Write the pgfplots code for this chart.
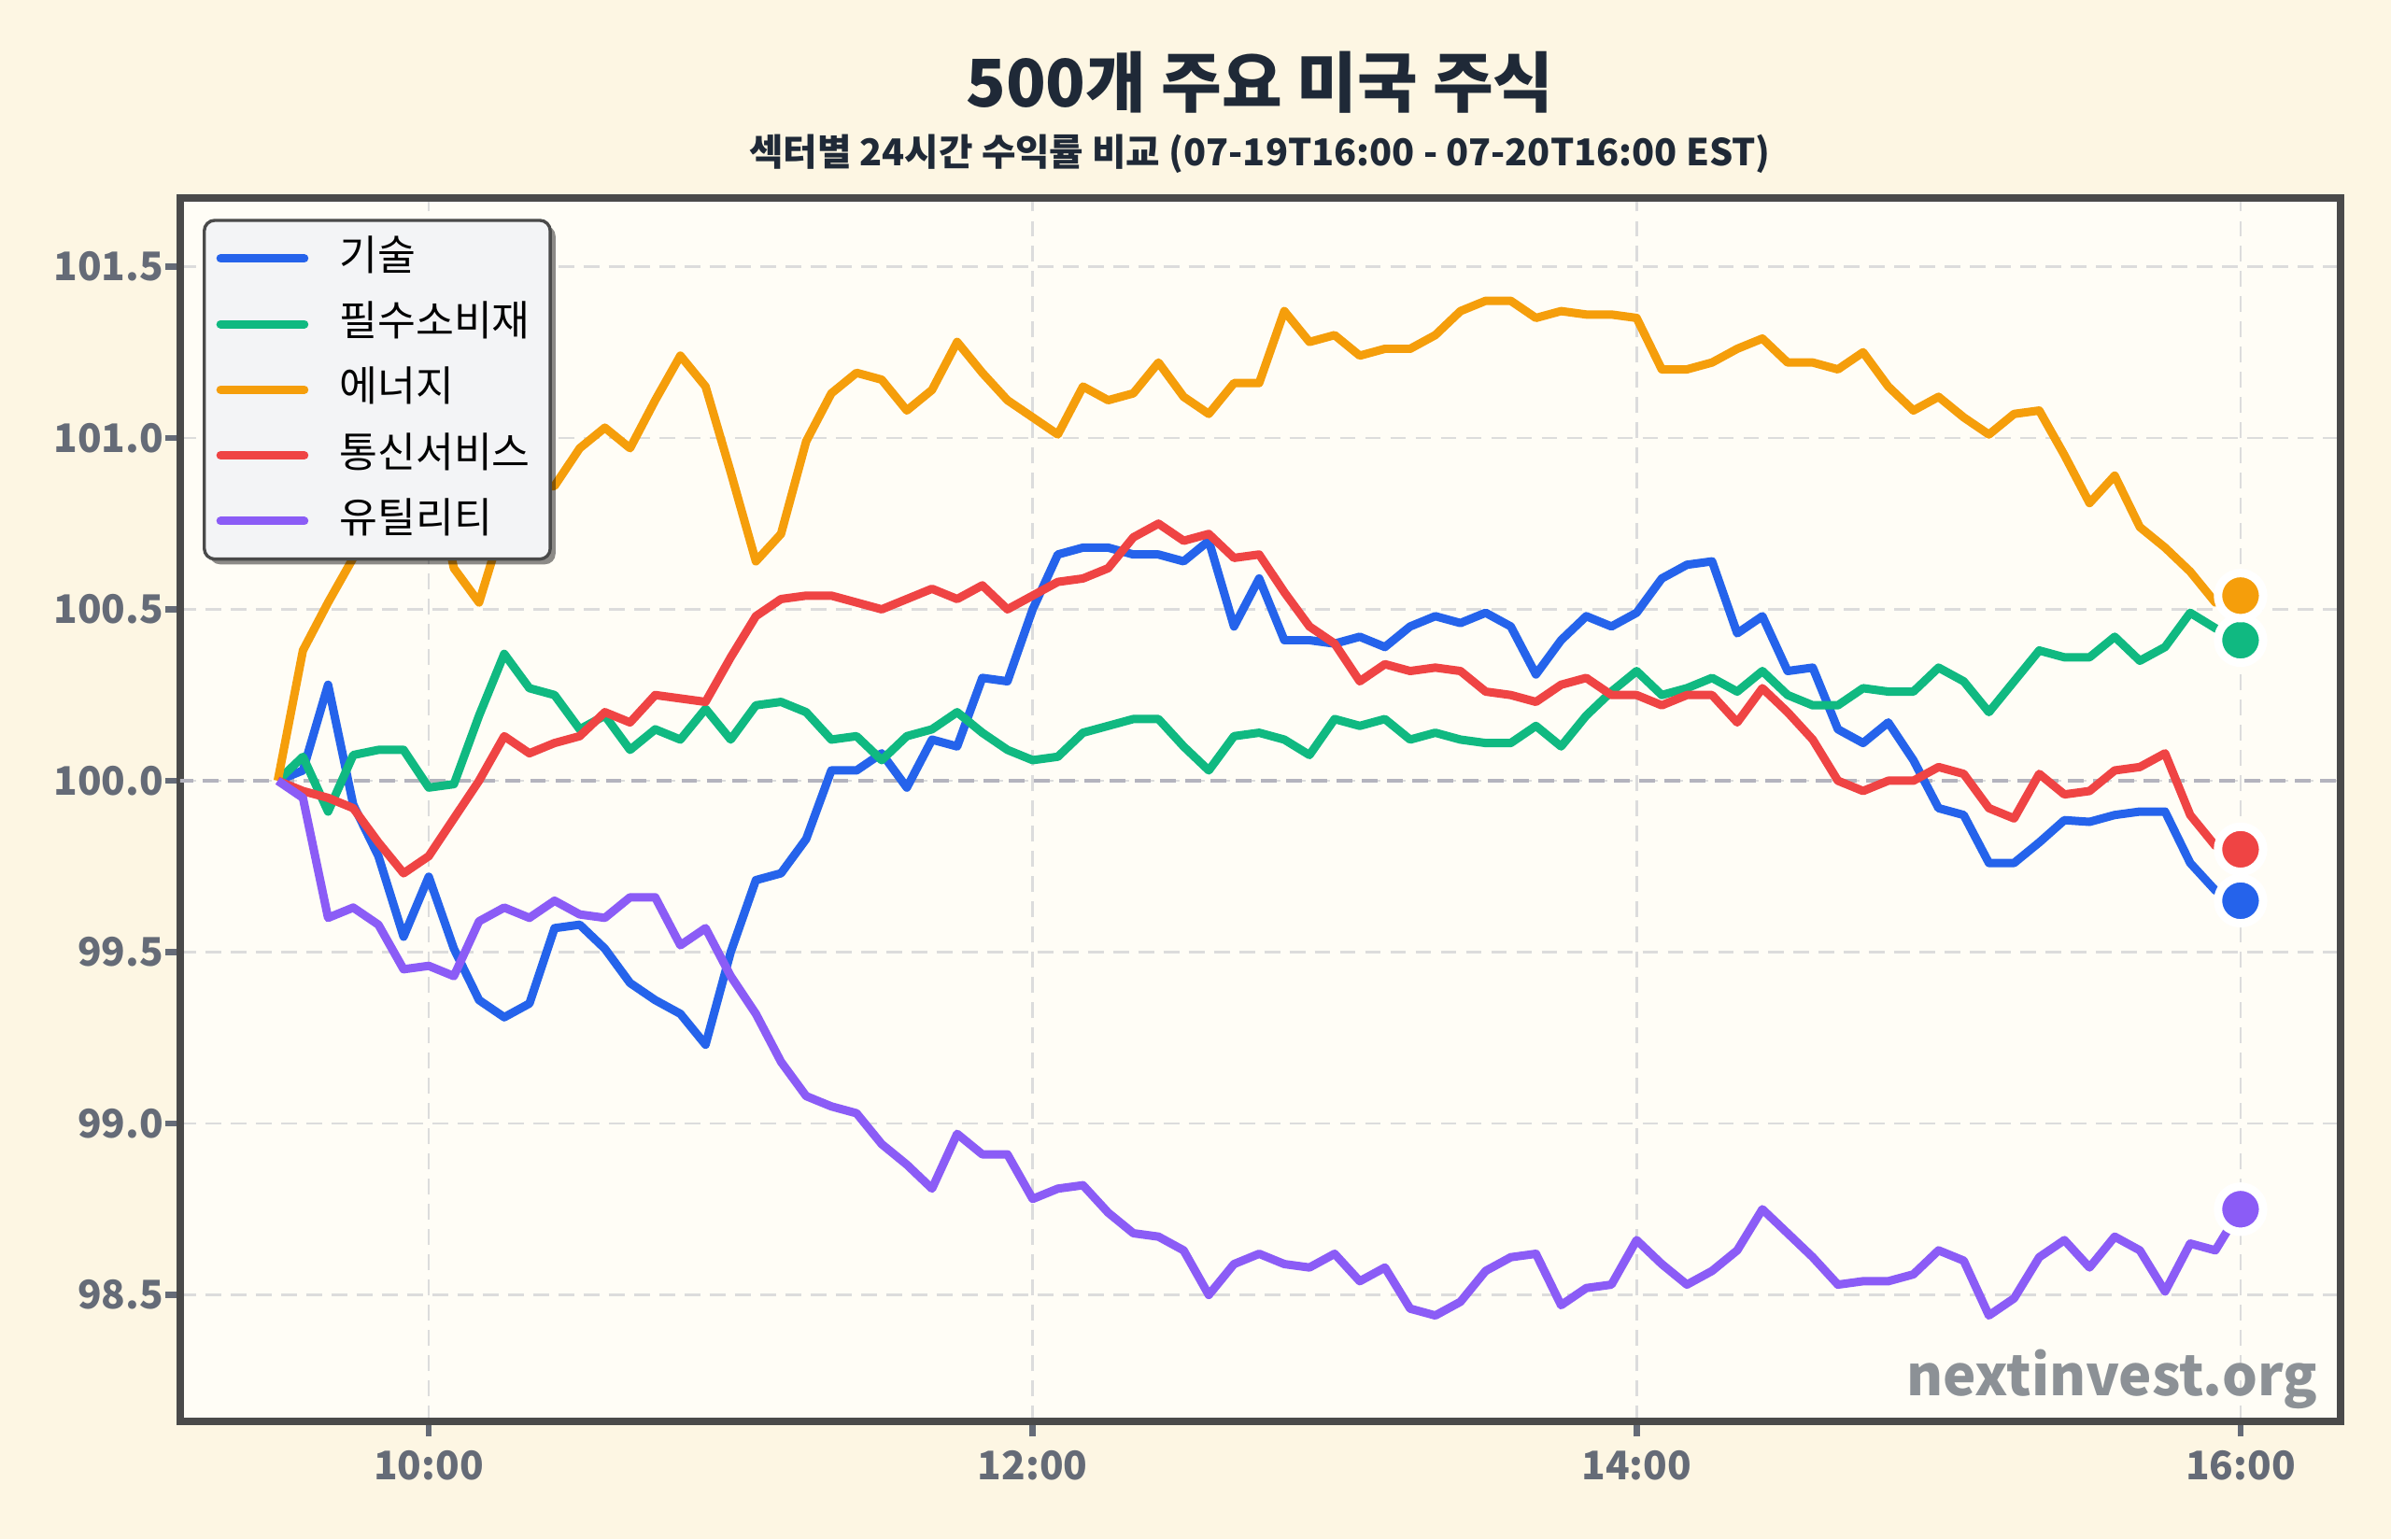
\documentclass[border=0pt]{standalone}
\usepackage{fontspec}
\setmainfont{Noto Sans CJK KR}
\usepackage{pgfplots}
\usepackage{pgfplotstable}
\pgfplotsset{compat=1.18}
\usetikzlibrary{shadows}

% keeps the legend box shadow off the legend sample lines
\makeatletter
\tikzset{noshadow/.code={\let\tikz@preactions\pgfutil@empty}}
\makeatother

\definecolor{tech}{HTML}{2563EB}
\definecolor{staples}{HTML}{10B981}
\definecolor{energy}{HTML}{F59E0B}
\definecolor{telecom}{HTML}{EF4444}
\definecolor{util}{HTML}{8B5CF6}
\definecolor{pagebg}{HTML}{FDF6E3}
\definecolor{plotbg}{HTML}{FFFDF6}
\definecolor{framec}{HTML}{4A4A4A}
\definecolor{ticktext}{HTML}{656B77}
\definecolor{titletext}{HTML}{1F2937}
\definecolor{gridc}{HTML}{DCDCDC}
\definecolor{zeroc}{HTML}{B4B4BE}
\definecolor{markc}{HTML}{8C9196}
\definecolor{legfill}{HTML}{F3F4F6}

% Sector index levels (start = 100), every 5 minutes from 09:30
\pgfplotstableread{
m tech staples energy telecom util
0 100.00 100.00 100.00 100.00 100.00
5 100.03 100.07 100.38 99.97 99.95
10 100.28 99.91 100.52 99.95 99.60
15 99.93 100.075 100.65 99.92 99.63
20 99.78 100.09 100.78 99.82 99.58
25 99.545 100.09 100.88 99.73 99.45
30 99.72 99.98 100.95 99.78 99.46
35 99.51 99.99 100.62 99.89 99.43
40 99.36 100.19 100.52 100.00 99.59
45 99.31 100.37 100.76 100.13 99.63
50 99.35 100.27 100.85 100.08 99.60
55 99.57 100.25 100.86 100.11 99.65
60 99.58 100.15 100.97 100.13 99.61
65 99.51 100.19 101.03 100.20 99.60
70 99.41 100.09 100.97 100.17 99.66
75 99.36 100.15 101.11 100.25 99.66
80 99.32 100.12 101.24 100.24 99.52
85 99.23 100.21 101.15 100.23 99.57
90 99.50 100.12 100.90 100.36 99.43
95 99.71 100.22 100.64 100.48 99.32
100 99.73 100.23 100.72 100.53 99.18
105 99.83 100.20 100.99 100.54 99.08
110 100.03 100.12 101.13 100.54 99.05
115 100.03 100.13 101.19 100.52 99.03
120 100.08 100.06 101.17 100.50 98.94
125 99.98 100.13 101.08 100.53 98.88
130 100.12 100.15 101.14 100.56 98.81
135 100.10 100.20 101.28 100.53 98.97
140 100.30 100.14 101.19 100.57 98.91
145 100.29 100.09 101.11 100.50 98.91
150 100.50 100.06 101.06 100.54 98.78
155 100.66 100.07 101.01 100.58 98.81
160 100.68 100.14 101.15 100.59 98.82
165 100.68 100.16 101.11 100.62 98.74
170 100.66 100.18 101.13 100.71 98.68
175 100.66 100.18 101.22 100.75 98.67
180 100.64 100.10 101.12 100.70 98.63
185 100.70 100.03 101.07 100.72 98.50
190 100.45 100.13 101.16 100.65 98.59
195 100.59 100.14 101.16 100.66 98.62
200 100.41 100.12 101.37 100.55 98.59
205 100.41 100.075 101.28 100.45 98.58
210 100.40 100.18 101.30 100.40 98.62
215 100.42 100.16 101.24 100.29 98.54
220 100.39 100.18 101.26 100.34 98.58
225 100.45 100.12 101.26 100.32 98.46
230 100.48 100.14 101.30 100.33 98.44
235 100.46 100.12 101.37 100.32 98.48
240 100.49 100.11 101.40 100.26 98.57
245 100.45 100.11 101.40 100.25 98.61
250 100.31 100.16 101.35 100.23 98.62
255 100.41 100.10 101.37 100.28 98.47
260 100.48 100.19 101.36 100.30 98.52
265 100.45 100.26 101.36 100.25 98.53
270 100.49 100.32 101.35 100.25 98.66
275 100.59 100.25 101.20 100.22 98.59
280 100.63 100.27 101.20 100.25 98.53
285 100.64 100.30 101.22 100.25 98.57
290 100.43 100.26 101.26 100.17 98.63
295 100.48 100.32 101.29 100.27 98.75
300 100.32 100.25 101.22 100.20 98.68
305 100.33 100.22 101.22 100.12 98.61
310 100.15 100.22 101.20 100.00 98.53
315 100.11 100.27 101.25 99.97 98.54
320 100.17 100.26 101.15 100.00 98.54
325 100.06 100.26 101.08 100.00 98.56
330 99.92 100.33 101.12 100.04 98.63
335 99.90 100.29 101.06 100.02 98.60
340 99.76 100.20 101.01 99.92 98.44
345 99.76 100.29 101.07 99.89 98.49
350 99.82 100.38 101.08 100.02 98.61
355 99.885 100.36 100.95 99.96 98.66
360 99.88 100.36 100.81 99.97 98.58
365 99.90 100.42 100.89 100.03 98.67
370 99.91 100.35 100.74 100.04 98.63
375 99.91 100.39 100.68 100.08 98.51
380 99.76 100.49 100.61 99.90 98.65
385 99.68 100.445 100.52 99.81 98.63
390 99.65 100.41 100.54 99.80 98.75
}\sectors

\begin{document}
\begin{tikzpicture}
\fill[pagebg] (-1.206,-0.7875) rectangle (14.794,9.5125);
\useasboundingbox (-1.206,-0.7875) rectangle (14.794,9.5125);
\begin{axis}[
  at={(0,0)}, anchor=south west,
  scale only axis, width=14.456cm, height=8.1875cm,
  xmin=9.177, xmax=16.331, ymin=98.131, ymax=101.70,
  axis background/.style={fill=plotbg},
  axis line style={draw=framec, line width=1.4pt},
  xtick={10,12,14,16}, xticklabels={10:00,12:00,14:00,16:00},
  ytick={98.5,99,99.5,100,100.5,101,101.5},
  yticklabel={\pgfmathprintnumber[fixed,fixed zerofill,precision=1,assume math mode=true]{\tick}},
  xtick pos=bottom, ytick pos=left,
  tick align=outside, major tick length=0.1cm,
  tick style={draw=ticktext, line width=1.2pt},
  grid=major,
  major grid style={draw=gridc, line width=0.5pt, dash pattern=on 3pt off 1.8pt},
  ticklabel style={font=\bfseries\fontsize{7.5}{9}\selectfont, text=ticktext},
  yticklabel style={xshift=3.2pt},
  xticklabel style={yshift=0.9pt},
  legend cell align=left,
  legend image code/.code={\draw[#1, noshadow, sharp corners, line width=1.6pt, line cap=round] (0cm,0cm) -- (0.56cm,0cm);},
  legend style={
    at={(0.0104,0.983)}, anchor=north west,
    draw=framec, line width=0.6pt, fill=legfill, rounded corners=2pt,
    drop shadow={shadow xshift=1pt, shadow yshift=-1pt, fill=black, opacity=0.45},
    font=\fontsize{7.9}{9.4}\selectfont,
    inner xsep=2.3pt, inner ysep=3.5pt,
    row sep=5pt, column sep=5.9pt,
    nodes={inner sep=0pt, text height=6pt, text depth=1.5pt},
  },
  every axis plot/.append style={line width=1.6pt, line join=round},
]
\addplot[zeroc, line width=0.8pt, dash pattern=on 3pt off 1.8pt, forget plot]
  coordinates {(9,100) (17,100)};
\addplot[tech] table[x expr=9.5+\thisrow{m}/60, y=tech] {\sectors};
\addlegendentry{기술}
\addplot[staples] table[x expr=9.5+\thisrow{m}/60, y=staples] {\sectors};
\addlegendentry{필수소비재\hspace*{1.5pt}}
\addplot[energy] table[x expr=9.5+\thisrow{m}/60, y=energy] {\sectors};
\addlegendentry{에너지}
\addplot[telecom] table[x expr=9.5+\thisrow{m}/60, y=telecom] {\sectors};
\addlegendentry{통신서비스\hspace*{1.5pt}}
\addplot[util] table[x expr=9.5+\thisrow{m}/60, y=util] {\sectors};
\addlegendentry{유틸리티}
% closing values marked at 16:00
\addplot[only marks, mark=*, mark size=4.3pt, mark options={fill=tech, draw=white, line width=1.6pt}, forget plot] coordinates {(16,99.65)};
\addplot[only marks, mark=*, mark size=4.3pt, mark options={fill=staples, draw=white, line width=1.6pt}, forget plot] coordinates {(16,100.41)};
\addplot[only marks, mark=*, mark size=4.3pt, mark options={fill=energy, draw=white, line width=1.6pt}, forget plot] coordinates {(16,100.54)};
\addplot[only marks, mark=*, mark size=4.3pt, mark options={fill=telecom, draw=white, line width=1.6pt}, forget plot] coordinates {(16,99.80)};
\addplot[only marks, mark=*, mark size=4.3pt, mark options={fill=util, draw=white, line width=1.6pt}, forget plot] coordinates {(16,98.75)};
\end{axis}
\node[anchor=base, font=\bfseries\fontsize{12.5}{15}\selectfont, text=titletext, inner sep=0pt] at (7.225,8.794) {500개 주요 미국 주식};
\node[anchor=base, font=\bfseries\fontsize{7.05}{9}\selectfont, text=titletext, inner sep=0pt] at (7.225,8.40) {섹터별 24시간 수익률 비교 (07-19T16:00 - 07-20T16:00 EST)};
\node[anchor=base east, font=\bfseries\fontsize{10.6}{13}\selectfont, text=markc, inner sep=0pt] at (14.306,0.169) {nextinvest.org};
\end{tikzpicture}
\end{document}
